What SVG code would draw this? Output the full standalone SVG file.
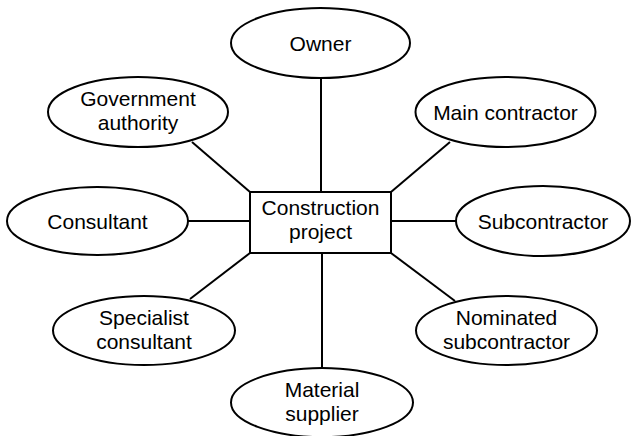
<svg xmlns="http://www.w3.org/2000/svg" width="631" height="436" viewBox="0 0 631 436">
<style>
.n ellipse, .n rect { fill: #ffffff; stroke: #000000; stroke-width: 2; }
.n text { font-family: "Liberation Sans", Arial, sans-serif; font-size: 21px; fill: #000000; text-anchor: middle; }
#connectors line { stroke: #000000; stroke-width: 2; }
</style>
<rect width="631" height="436" fill="#ffffff"/>
<g id="connectors">
<line x1="321" y1="78" x2="321" y2="192"/>
<line x1="192" y1="142" x2="250" y2="192"/>
<line x1="450" y1="142" x2="391" y2="192"/>
<line x1="188" y1="221" x2="250" y2="221"/>
<line x1="391" y1="221" x2="456" y2="221"/>
<line x1="190" y1="299" x2="250" y2="253"/>
<line x1="391" y1="253" x2="455" y2="301"/>
<line x1="322" y1="253" x2="322" y2="368"/>
</g>
<g id="center" class="n">
<rect x="250" y="192" width="141" height="61"/>
<text x="320.5" y="215">Construction</text>
<text x="320.5" y="239">project</text>
</g>
<g id="owner" class="n">
<ellipse cx="320.5" cy="43" rx="89.5" ry="35"/>
<text x="320.5" y="50.5">Owner</text>
</g>
<g id="government" class="n">
<ellipse cx="138" cy="112" rx="90" ry="35"/>
<text x="138" y="106">Government</text>
<text x="138" y="130">authority</text>
</g>
<g id="maincontractor" class="n">
<ellipse cx="505.5" cy="112" rx="90" ry="35"/>
<text x="505.5" y="119.5">Main contractor</text>
</g>
<g id="consultant" class="n">
<ellipse cx="97.5" cy="221" rx="90.5" ry="34"/>
<text x="97.5" y="228.5">Consultant</text>
</g>
<g id="subcontractor" class="n">
<ellipse cx="543" cy="221" rx="87" ry="35"/>
<text x="543" y="228.5">Subcontractor</text>
</g>
<g id="specialist" class="n">
<ellipse cx="144" cy="330.5" rx="91" ry="34.5"/>
<text x="144" y="324.5">Specialist</text>
<text x="144" y="348.5">consultant</text>
</g>
<g id="nominated" class="n">
<ellipse cx="506.5" cy="330.5" rx="90.5" ry="34.5"/>
<text x="506.5" y="324.5">Nominated</text>
<text x="506.5" y="348.5">subcontractor</text>
</g>
<g id="material" class="n">
<ellipse cx="322" cy="402.5" rx="91" ry="34.5"/>
<text x="322" y="396.5">Material</text>
<text x="322" y="420.5">supplier</text>
</g>
</svg>
